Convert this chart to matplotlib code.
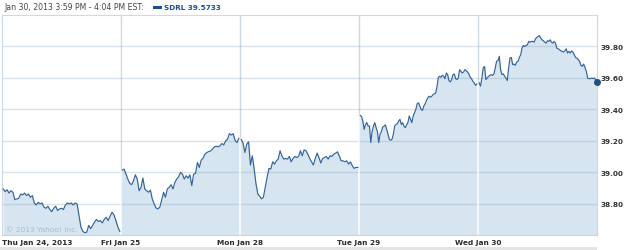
import numpy as np
import matplotlib
matplotlib.use("Agg")
import matplotlib.pyplot as plt
from matplotlib.patches import Rectangle

# ---------------- data ----------------
day_labels = ["Thu Jan 24, 2013", "Fri Jan 25", "Mon Jan 28", "Tue Jan 29", "Wed Jan 30"]
y_ticks = [38.80, 39.00, 39.20, 39.40, 39.60, 39.80]
header_text = "Jan 30, 2013 3:59 PM - 4:04 PM EST:"
legend_text = "SDRL 39.5733"
copyright_text = "\u00a9 2013 Yahoo! Inc."

thu_jan24 = [38.893, 38.876, 38.888, 38.867, 38.882, 38.872, 38.825, 38.829, 38.834, 38.861,
             38.855, 38.867, 38.851, 38.861, 38.840, 38.851, 38.804, 38.791, 38.808, 38.798,
             38.804, 38.777, 38.770, 38.783, 38.762, 38.749, 38.770, 38.783, 38.756, 38.766,
             38.770, 38.762, 38.791, 38.804, 38.798, 38.804, 38.791, 38.804, 38.798, 38.724,
             38.650, 38.623, 38.614, 38.618, 38.661, 38.640, 38.661, 38.682, 38.699, 38.686,
             38.692, 38.677, 38.699, 38.713, 38.692, 38.720, 38.745, 38.728, 38.692, 38.650,
             38.623]
fri_jan25 = [39.013, 39.019, 38.988, 38.956, 38.929, 38.920, 38.945, 38.983, 38.956, 38.882,
             38.903, 38.962, 38.893, 38.882, 38.872, 38.886, 38.829, 38.798, 38.772, 38.766,
             38.777, 38.823, 38.872, 38.840, 38.893, 38.903, 38.920, 38.893, 38.935, 38.956,
             38.971, 38.998, 38.988, 38.956, 38.977, 38.962, 38.983, 38.914, 38.988, 38.992,
             39.061, 39.030, 39.076, 39.089, 39.114, 39.125, 39.131, 39.135, 39.146, 39.161,
             39.165, 39.161, 39.167, 39.182, 39.173, 39.199, 39.209, 39.245, 39.236, 39.245,
             39.203, 39.188, 39.215]
mon_jan28 = [39.209, 39.184, 39.125, 39.178, 39.193, 39.045, 39.104, 39.020, 38.925, 38.861,
             38.847, 38.830, 38.840, 38.904, 38.967, 39.024, 39.020, 39.066, 39.051, 39.072,
             39.083, 39.136, 39.104, 39.083, 39.087, 39.083, 39.100, 39.066, 39.087, 39.100,
             39.093, 39.100, 39.136, 39.104, 39.142, 39.136, 39.114, 39.087, 39.066, 39.045,
             39.087, 39.121, 39.093, 39.058, 39.087, 39.093, 39.100, 39.083, 39.104, 39.100,
             39.114, 39.121, 39.129, 39.104, 39.072, 39.072, 39.066, 39.072, 39.051, 39.066,
             39.041, 39.024, 39.030, 39.030]
tue_jan29 = [39.361, 39.355, 39.325, 39.272, 39.304, 39.315, 39.293, 39.293, 39.188, 39.258,
             39.293, 39.315, 39.283, 39.258, 39.188, 39.241, 39.258, 39.287, 39.293, 39.300,
             39.272, 39.241, 39.209, 39.203, 39.209, 39.241, 39.293, 39.304, 39.308, 39.325,
             39.336, 39.304, 39.315, 39.293, 39.283, 39.300, 39.315, 39.357, 39.336, 39.315,
             39.357, 39.378, 39.399, 39.435, 39.441, 39.420, 39.399, 39.393, 39.420, 39.435,
             39.456, 39.473, 39.483, 39.477, 39.483, 39.494, 39.498, 39.504, 39.547, 39.604,
             39.610, 39.604, 39.616, 39.610, 39.595, 39.631, 39.620, 39.582, 39.574, 39.589,
             39.620, 39.625, 39.595, 39.589, 39.599, 39.652, 39.642, 39.631, 39.637, 39.652,
             39.646, 39.637, 39.625, 39.604, 39.595, 39.578, 39.568, 39.553, 39.561]
wed_jan30 = [39.568, 39.547, 39.599, 39.663, 39.673, 39.589, 39.599, 39.610, 39.616, 39.621,
             39.616, 39.625, 39.663, 39.705, 39.709, 39.737, 39.652, 39.621, 39.625, 39.610,
             39.599, 39.583, 39.663, 39.726, 39.730, 39.684, 39.688, 39.680, 39.701, 39.705,
             39.730, 39.747, 39.789, 39.806, 39.800, 39.806, 39.810, 39.832, 39.827, 39.832,
             39.832, 39.827, 39.848, 39.857, 39.863, 39.869, 39.853, 39.842, 39.836, 39.827,
             39.821, 39.836, 39.832, 39.842, 39.827, 39.821, 39.832, 39.821, 39.789, 39.785,
             39.779, 39.772, 39.768, 39.764, 39.772, 39.785, 39.758, 39.768, 39.758, 39.772,
             39.764, 39.747, 39.730, 39.726, 39.716, 39.705, 39.680, 39.673, 39.688, 39.667,
             39.642, 39.599, 39.595, 39.595, 39.599, 39.595, 39.599, 39.589, 39.5733]

days = [thu_jan24, fri_jan25, mon_jan28, tue_jan29, wed_jan30]

# ---------------- style ----------------
LINE = "#33639b"
FILL = "#d6e5f0"
GRID = "#7f9bb5"
VSEP = "#cdd8e2"
TXT = "#2a2a2a"

fig = plt.figure(figsize=(6.25, 2.51), dpi=100)
W, H = 625, 251
ax = fig.add_axes([2 / W, 15 / H, 595 / W, 220 / H])
ax.set_xlim(0, 5)
ax.set_ylim(38.6, 40.0)

xs_all, vs_all = [], []
for d, vals in enumerate(days):
    n = len(vals)
    end = 1.0 if d == len(days) - 1 else 0.99
    x = d + np.linspace(0.01, end, n)
    xs_all.append(x)
    vs_all.append(np.asarray(vals))
    ax.plot(x, vals, color=LINE, lw=0.85, zorder=4, solid_joinstyle="round")

X = np.concatenate(xs_all)
V = np.concatenate(vs_all)
ax.fill_between(X, 38.6, V, color=FILL, lw=0, zorder=1)

# horizontal grid (semi-transparent, over fill)
for t in y_ticks:
    ax.axhline(t, color=GRID, alpha=0.28, lw=1, zorder=2)

# day separators: grey in the white area, white within the fill
for d in range(1, len(days)):
    ax.axvline(d, color=VSEP, lw=1, zorder=0.5)
    top = max(vs_all[d - 1][-1], vs_all[d][0])
    ax.plot([d, d], [38.6, top], color="white", lw=1.1, zorder=3)

# end marker
ax.plot(X[-1], V[-1], "o", ms=4, color="#1d4f8a", zorder=5, clip_on=False)

# ticks
ax.set_xticks(range(len(day_labels)))
ax.set_xticklabels(day_labels, fontsize=5.3, fontweight="bold", color=TXT)
ax.get_xticklabels()[0].set_horizontalalignment("left")
ax.tick_params(axis="x", length=0, pad=2.8)
ax.yaxis.tick_right()
ax.set_yticks(y_ticks)
ax.set_yticklabels([f"{t:.2f}" for t in y_ticks], fontsize=5.2, fontweight="bold", color="#333333")
ax.tick_params(axis="y", length=0, pad=2.5)

for s in ["left", "right"]:
    ax.spines[s].set_color(VSEP)
    ax.spines[s].set_linewidth(0.8)
ax.spines["top"].set_color("#d4d9de")
ax.spines["top"].set_linewidth(0.8)
ax.spines["bottom"].set_color("#c5d4e0")
ax.spines["bottom"].set_linewidth(0.8)

ax.text(4 / 595, 6 / 220, copyright_text, transform=ax.transAxes, fontsize=5.4,
        color="#aebccb", ha="left", va="center", zorder=3)

# header
fig.text(4 / W, 1 - 8 / H, header_text, fontsize=5.6, color="#444444", ha="left", va="center")
fig.patches.append(Rectangle((153 / W, 1 - 9.5 / H), 9 / W, 3 / H, transform=fig.transFigure,
                             color="#1d4f8a", lw=0))
fig.text(164 / W, 1 - 8 / H, legend_text, fontsize=5.2, fontweight="bold", color="#1d4f8a",
         ha="left", va="center")

# bottom grey band
fig.patches.append(Rectangle((0, 0), 597 / W, 3 / H, transform=fig.transFigure,
                             color="#e4e4e4", lw=0))

fig.savefig("out.png", dpi=100, facecolor="white")
